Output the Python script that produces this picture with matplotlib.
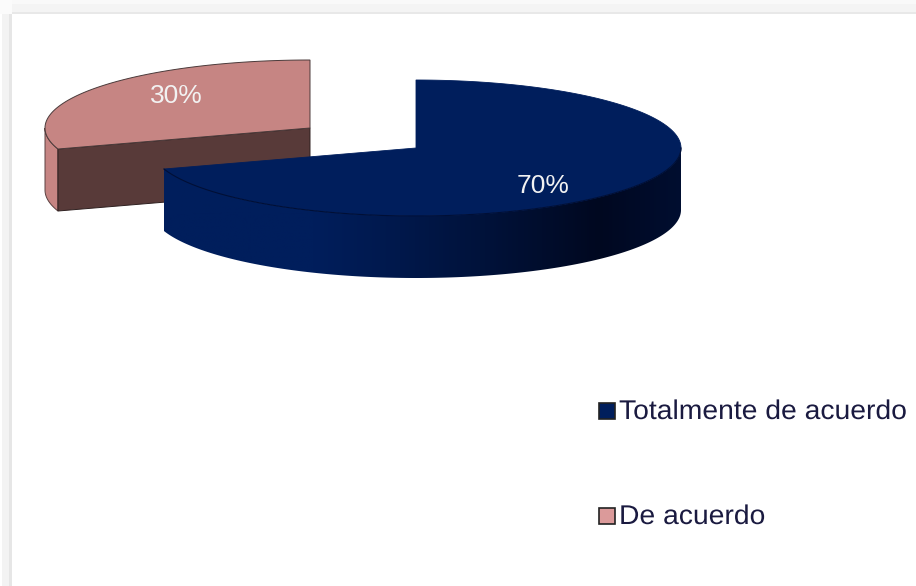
import numpy as np
import matplotlib
matplotlib.use('Agg')
import matplotlib.pyplot as plt
from matplotlib.colors import LinearSegmentedColormap
from matplotlib.patches import Polygon, Rectangle
from matplotlib.patheffects import AbstractPathEffect
from matplotlib.transforms import Affine2D

categories = ['Totalmente de acuerdo', 'De acuerdo']
values = [70, 30]
labels = ['70%', '30%']

top_colors = ['#001E5C', '#C68583']
cut_colors = ['#001E5C', '#583A39']
legend_colors = ['#001E5C', '#DB9A9A']

W, H = 916, 586
RX, RY, DEPTH = 265, 68, 62     # ellipse and thickness of the pie
centers = [(416, 148), (310, 128)]      # second slice is pulled out


class Stretch(AbstractPathEffect):
    # the legend text is wider than the font, stretch it from its left edge
    def __init__(self, x0, k):
        super().__init__()
        self.x0, self.k = x0, k

    def draw_path(self, renderer, gc, tpath, affine, rgbFace=None):
        st = Affine2D().translate(-self.x0, 0).scale(self.k, 1).translate(self.x0, 0)
        renderer.draw_path(gc, tpath, affine + st, rgbFace)


def rim(center, a0, a1, n=200):
    # points on the ellipse, angles in degrees, y goes down
    a = np.radians(np.linspace(a0, a1, n))
    return center[0] + RX * np.cos(a), center[1] - RY * np.sin(a)


fig = plt.figure(figsize=(W / 100, H / 100), dpi=100)
fig.patch.set_facecolor('white')
ax = fig.add_axes([0, 0, 1, 1])
ax.set_xlim(0, W)
ax.set_ylim(H, 0)
ax.axis('off')

# soft grey frame on top and left
ax.add_patch(Rectangle((0, 0), W, 4, fc='#F9F9F9', ec='none'))
ax.add_patch(Rectangle((0, 4), W, 8, fc='#F4F4F4', ec='none'))
ax.add_patch(Rectangle((2, 12), W, 2, fc='#E8E8E8', ec='none'))
ax.add_patch(Rectangle((2, 14), 7, H, fc='#F3F3F3', ec='none'))
ax.add_patch(Rectangle((9, 14), 3, H, fc='#E6E6E6', ec='none'))
ax.add_patch(Rectangle((0, 0), 12, 14, fc='#FBFBFB', ec='none'))

# angles of the slices, clockwise from 12 o'clock
shares = np.array(values) / sum(values) * 360
start = 90
spans = []
for s in shares:
    spans.append((start - s, start))
    start -= s

# pink slice first, it sits behind
a0, a1 = spans[1]
c = centers[1]
a0 += 360 if a0 < 0 else 0
a1 += 360 if a1 < 0 else 0
lo, hi = min(a0, a1), max(a0, a1)
x, y = rim(c, lo, hi)
xe, ye = x[-1], y[-1]

# outer wall visible at the far left
xw, yw = rim(c, 180, hi, 60)
ax.add_patch(Polygon(np.r_[np.c_[xw, yw], np.c_[xw[::-1], yw[::-1] + DEPTH]],
                     fc=top_colors[1], ec='#5A4040', lw=0.7, zorder=2))
# cut faces
ax.add_patch(Polygon([(c[0], c[1]), (xe, ye), (xe, ye + DEPTH), (c[0], c[1] + DEPTH)],
                     fc=cut_colors[1], ec='#2E2020', lw=0.7, zorder=3))
ax.add_patch(Polygon(np.r_[[c], np.c_[x, y]], fc=top_colors[1], ec='#4A3A3A', lw=0.7, zorder=4))

# navy slice, the wall is one gradient clipped to its outline
a0, a1 = spans[0]
c = centers[0]
x, y = rim(c, a0, a1, 300)
xs, ys = rim(c, a0, 0, 300)
wall = Polygon(np.r_[np.c_[xs, ys], np.c_[xs[::-1], ys[::-1] + DEPTH]],
               fc='none', ec='none', transform=ax.transData)
ax.add_patch(wall)
cmap = LinearSegmentedColormap.from_list('wall', [(0, '#001E5C'), (0.29, '#001E5C'),
                                                  (0.62, '#00123A'), (0.84, '#000820'),
                                                  (1, '#000E30')])
im = ax.imshow(np.linspace(0, 1, 512)[None, :], cmap=cmap, aspect='auto', zorder=5,
               extent=(xs[0], c[0] + RX, ys.max() + DEPTH, ys.min()))
im.set_clip_path(wall)
ax.set_xlim(0, W)
ax.set_ylim(H, 0)

ax.add_patch(Polygon(np.r_[[c], np.c_[x, y]], fc=top_colors[0], ec=top_colors[0], lw=0.6, zorder=6))
ax.plot(*rim(c, a0, 0, 200), color='#000F36', lw=0.8, zorder=7)

# labels on the slices
ax.text(543.5, 186, labels[0], color='#F2F2F2', fontsize=19, family='Liberation Sans',
        ha='center', va='center', zorder=8)
ax.text(176.5, 96, labels[1], color='#F2F2F2', fontsize=19, family='Liberation Sans',
        ha='center', va='center', zorder=8)

# legend
legend_y = [412, 517]
for name, col, ly in zip(categories, legend_colors, legend_y):
    ax.add_patch(Rectangle((598.5, ly - 9), 16, 16, fc=col, ec='#222222', lw=1.2, zorder=8))
    ax.text(619, ly, name, color='#1A1A40', fontsize=19.5, family='Liberation Sans',
            ha='left', va='center', zorder=8, path_effects=[Stretch(619, 1.045)])

fig.savefig('out.png', dpi=100, facecolor='white')
